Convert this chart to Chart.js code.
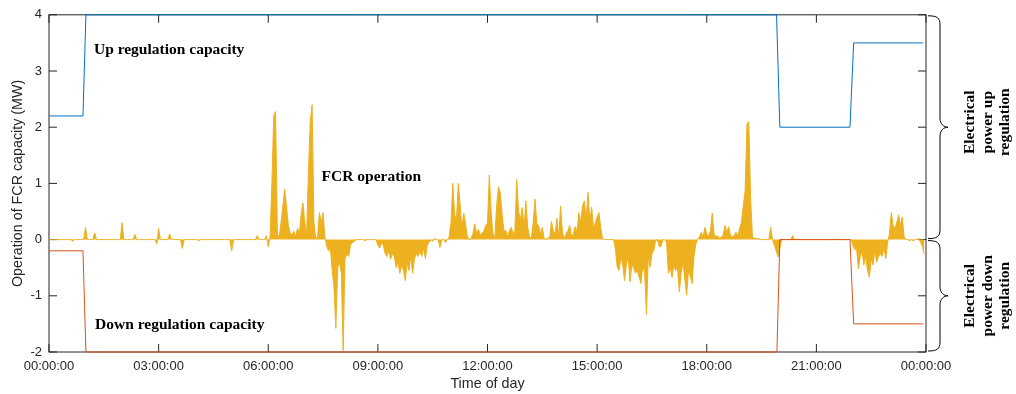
<!DOCTYPE html>
<html>
<head>
<meta charset="utf-8">
<script src="https://cdn.jsdelivr.net/npm/chart.js@4.4.1/dist/chart.umd.min.js"></script>
<style>
  html, body { margin: 0; padding: 0; background: #ffffff; }
  #wrap { width: 1016px; height: 394px; }
</style>
</head>
<body>
<div id="wrap"><canvas id="fcr" width="1016" height="394"></canvas></div>
<script>
// Axis tick labels (every 3 hours)
const timeLabels = ["00:00:00", "03:00:00", "06:00:00", "09:00:00", "12:00:00",
                    "15:00:00", "18:00:00", "21:00:00", "00:00:00"];

// Up / down regulation capacity (MW), breakpoints in hours of the day
const upTimes   = [0, 0.93, 1.01, 19.91, 20.0, 21.92, 22.02, 23.92];
const upMW      = [2.2, 2.2, 4.0, 4.0, 2.0, 2.0, 3.5, 3.5];
const downTimes = [0, 0.93, 1.01, 19.92, 20.0, 21.92, 22.02, 23.92];
const downMW    = [-0.2, -0.2, -2.0, -2.0, 0.0, 0.0, -1.5, -1.5];

// FCR operation (MW), one row per hour, one value every 3 minutes
const fcrNight = [
  [0,0,0,0,0,0,0,0,0,0,0,0,0,-0.03,0,0,0,0,0,0],
  [0.22,0,0,0,0,0.12,0,0,0,0,0,0,0,0,0,0,0,0,0,0],
  [0.3,0,0,0,0,0,0,0.09,0,0,0,0,0,0,0,0,0,0,0,-0.08],
  [0.2,0,0,0,0,0,0.1,0,0,0,0,0,0,-0.16,0,0,0,0,0,0],
  [0,0,-0.02,0,0,0,0,0,0,0,0,0,0,0,0,0,0,0,0,0],
  [-0.2,0,0,0,0,0,0,0,0,0,0,0,0,0,0.07,0,0,0,0,0.07]
];
const fcrMorning = [
  [-0.13,0.05,1.0,2.2,2.28,0.1,0.05,0.3,0.6,0.9,0.6,0.25,0.12,0.08,0.15,0.05,0.2,0.1,0.45,0.65],
  [0.3,0.1,1.2,2.1,2.4,0.3,0.02,0.05,0.48,0.3,0.48,0.05,-0.12,-0.2,-0.15,-0.55,-0.85,-1.58,-0.5,-0.4],
  [-0.6,-1.97,-0.35,-0.25,-0.3,-0.1,-0.05,-0.04,0,0,0,0,0,-0.02,0,0,0,0,0,0],
  [-0.1,-0.15,-0.05,-0.1,-0.25,-0.3,-0.2,-0.35,-0.25,-0.3,-0.5,-0.4,-0.6,-0.45,-0.55,-0.73,-0.4,-0.55,-0.3,-0.6],
  [-0.35,-0.25,-0.3,-0.2,-0.3,-0.15,-0.34,-0.1,-0.05,0,-0.03,0.02,0,0,-0.14,0,0,-0.05,0,0.05],
  [0.3,1.0,0.45,0.34,1.0,0.63,0.2,0.47,0.28,0.05,0,0.02,0.1,0.28,0.12,0.18,0.08,0.12,0.15,0.25]
];
const fcrAfternoon = [
  [0.3,1.15,0.48,0.1,0.02,0.6,0.94,0.84,0.45,0.15,0.16,0.05,0.16,0.22,0.1,0.16,1.07,0.51,0.34,0.57],
  [0.2,0.69,0.22,0.05,0.02,0.3,0.72,0.28,0.25,0.1,0.22,0.02,0,0.03,0.02,0.32,0.16,0.1,0.38,0.05],
  [0.6,0.13,0.02,0.1,0.16,0.25,0.05,0.1,0.23,0.15,0.48,0.3,0.6,0.69,0.35,0.84,0.33,0.58,0.19,0.3],
  [0.4,0.48,0.2,0.02,0,0,0,0,0,0,-0.17,-0.49,-0.55,-0.31,-0.45,-0.73,-0.45,-0.3,-0.75,-0.45],
  [-0.5,-0.6,-0.55,-0.67,-0.78,-0.45,-0.6,-1.33,-0.3,-0.49,-0.25,-0.2,-0.02,0,-0.12,-0.12,0,0,-0.05,-0.6],
  [-0.5,-0.67,-0.45,-0.55,-0.5,-0.93,-0.6,-0.4,-0.7,-0.99,-0.55,-0.65,-0.78,-0.3,-0.08,0,0.05,0.13,0.05,0.22]
];
const fcrEvening = [
  [0.1,0.07,0.15,0.47,0.1,0.05,0.07,0.02,0.05,0.08,0.25,0.13,0.23,0.07,0.05,0.07,0.13,0.07,0.2,0.31],
  [0.6,0.87,2.05,2.1,0.75,0.05,0.02,0.03,0.01,0.01,0,0,0,0,0,0.22,0,-0.1,-0.2,-0.31],
  [-0.15,0,0,0,0,0,0,0.07,0,0,0.01,0,0,0,0,0,0,0,0,0],
  [0,0,0,0,0,0,0,0,0,0,0.01,0,0,0,0,0,0,0,0,0],
  [-0.1,-0.18,-0.15,-0.52,-0.3,-0.22,-0.45,-0.3,-0.55,-0.67,-0.35,-0.45,-0.2,-0.4,-0.3,-0.25,-0.3,-0.15,-0.34,-0.05],
  [0.1,0.48,0.25,0.2,0.3,0.44,0.25,0.4,0.05,0,0,-0.02,0,-0.02,0,0,0.02,-0.05,-0.12,-0.26]
];

const SAMPLE_HOURS = 3 / 60;
const fcrRows = [...fcrNight, ...fcrMorning, ...fcrAfternoon, ...fcrEvening];
const fcrPoints = [];
fcrRows.forEach((row, hour) => {
  row.forEach((mw, i) => fcrPoints.push({ x: hour + i * SAMPLE_HOURS, y: mw }));
});
const upPoints = upTimes.map((t, i) => ({ x: t, y: upMW[i] }));
const downPoints = downTimes.map((t, i) => ({ x: t, y: downMW[i] }));

const AXIS_COLOR = '#262626';
const SANS = '"Liberation Sans", Arial, sans-serif';
const SERIF = '"Liberation Serif", "Times New Roman", serif';

// In-plot text labels, placed in data coordinates (hours, MW)
const notes = [
  { text: 'Up regulation capacity',   x: 1.23, y: 3.31 },
  { text: 'FCR operation',            x: 7.46, y: 1.05 },
  { text: 'Down regulation capacity', x: 1.26, y: -1.586 }
];

// Braces on the right margin with their captions
const braces = [
  { from: 4, to: 0,  lines: ['Electrical', 'power up', 'regulation'],   textShift: -5 },
  { from: 0, to: -2, lines: ['Electrical', 'power down', 'regulation'], textShift: 0 }
];

function drawBrace(ctx, x0, y1, y2) {
  const xv = x0 + 12, xt = x0 + 20, r = 9;
  const ym = (y1 + y2) / 2;
  ctx.beginPath();
  ctx.moveTo(x0, y1);
  ctx.bezierCurveTo(x0 + 9, y1, xv, y1 + 2, xv, y1 + r);
  ctx.lineTo(xv, ym - r);
  ctx.bezierCurveTo(xv, ym - 3, xt - 4, ym, xt, ym);
  ctx.bezierCurveTo(xt - 4, ym, xv, ym + 3, xv, ym + r);
  ctx.lineTo(xv, y2 - r);
  ctx.bezierCurveTo(xv, y2 - 2, x0 + 9, y2, x0, y2);
  ctx.stroke();
}

const framePlugin = {
  id: 'frame',
  beforeDatasetsDraw(chart) {
    const { ctx, chartArea: a, scales: { x, y } } = chart;
    const tick = 8;
    ctx.save();
    ctx.strokeStyle = AXIS_COLOR;
    ctx.lineWidth = 1;
    ctx.strokeRect(a.left, a.top, a.right - a.left, a.bottom - a.top);
    ctx.beginPath();
    x.ticks.forEach(t => {
      const px = x.getPixelForValue(t.value);
      ctx.moveTo(px, a.bottom); ctx.lineTo(px, a.bottom - tick);
      ctx.moveTo(px, a.top);    ctx.lineTo(px, a.top + tick);
    });
    y.ticks.forEach(t => {
      const py = y.getPixelForValue(t.value);
      ctx.moveTo(a.left, py);  ctx.lineTo(a.left + tick, py);
      ctx.moveTo(a.right, py); ctx.lineTo(a.right - tick, py);
    });
    ctx.stroke();
    ctx.restore();
  },
  afterDraw(chart) {
    const { ctx, chartArea: a, scales: { x, y } } = chart;
    ctx.save();

    // axis titles
    ctx.fillStyle = AXIS_COLOR;
    ctx.font = '14.3px ' + SANS;
    ctx.textAlign = 'center';
    ctx.textBaseline = 'middle';
    ctx.fillText('Time of day', (a.left + a.right) / 2, a.bottom + 32);
    ctx.save();
    ctx.translate(a.left - 31, (a.top + a.bottom) / 2);
    ctx.rotate(-Math.PI / 2);
    ctx.fillText('Operation of FCR capacity (MW)', 0, 0);
    ctx.restore();

    // in-plot labels
    ctx.fillStyle = '#000000';
    ctx.font = 'bold 15.5px ' + SERIF;
    ctx.textAlign = 'left';
    ctx.textBaseline = 'alphabetic';
    notes.forEach(n => ctx.fillText(n.text, x.getPixelForValue(n.x), y.getPixelForValue(n.y)));

    // braces and captions
    ctx.strokeStyle = '#000000';
    ctx.lineWidth = 1;
    braces.forEach(b => {
      const y1 = y.getPixelForValue(b.from) + 1;
      const y2 = y.getPixelForValue(b.to) - 1;
      drawBrace(ctx, a.right + 2, y1, y2);
      const ym = (y1 + y2) / 2 + b.textShift;
      ctx.textAlign = 'center';
      ctx.textBaseline = 'alphabetic';
      b.lines.forEach((line, i) => {
        ctx.save();
        ctx.translate(a.right + 48 + i * 17.5, ym);
        ctx.rotate(-Math.PI / 2);
        ctx.fillText(line, 0, 0);
        ctx.restore();
      });
    });
    ctx.restore();
  }
};

new Chart(document.getElementById('fcr'), {
  type: 'line',
  data: {
    datasets: [
      { label: 'Up regulation capacity', data: upPoints, borderColor: '#0072BD',
        borderWidth: 1, pointRadius: 0, fill: false, order: 1, clip: 3 },
      { label: 'Down regulation capacity', data: downPoints, borderColor: '#D95319',
        borderWidth: 1, pointRadius: 0, fill: false, order: 2, clip: 3 },
      { label: 'FCR operation', data: fcrPoints, borderColor: '#EDB120',
        backgroundColor: '#EDB120', borderWidth: 1, pointRadius: 0,
        fill: 'origin', order: 3, clip: 3 }
    ]
  },
  options: {
    responsive: false,
    animation: false,
    devicePixelRatio: 1,
    parsing: false,
    layout: { padding: { left: 0, right: 90, top: 13, bottom: 0 } },
    plugins: { legend: { display: false }, tooltip: { enabled: false } },
    elements: { line: { tension: 0 } },
    scales: {
      x: {
        type: 'linear', min: 0, max: 24,
        grid: { display: false, drawTicks: false },
        border: { display: false },
        ticks: {
          stepSize: 3, autoSkip: false, maxRotation: 0, padding: 7,
          color: AXIS_COLOR, font: { family: SANS, size: 13 },
          callback: v => timeLabels[Math.round(v / 3)]
        },
        afterFit: s => { s.height = 42; }
      },
      y: {
        type: 'linear', min: -2, max: 4,
        grid: { display: false, drawTicks: false },
        border: { display: false },
        ticks: {
          stepSize: 1, padding: 7,
          color: AXIS_COLOR, font: { family: SANS, size: 13 }
        },
        afterFit: s => { s.width = 49; }
      }
    }
  },
  plugins: [framePlugin]
});
</script>
</body>
</html>
